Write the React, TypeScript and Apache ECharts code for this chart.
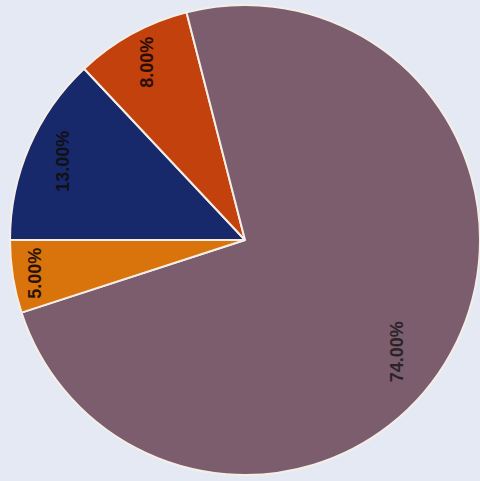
import React, { useEffect, useRef } from "react";
import * as echarts from "echarts";

const categories = ["Navy", "Red", "Mauve", "Orange"];
const values = [13, 8, 74, 5];
const colors = ["#17296b", "#c2410d", "#7b5d6e", "#d9740c"];

export default function App() {
  const ref = useRef<HTMLDivElement>(null);
  useEffect(() => {
    if (!ref.current) return;
    const chart = echarts.init(ref.current, undefined, { renderer: "svg" });
    const R = 235;
    const center = [245, 240];
    const labelFrac = [0.83, 0.85, 0.79, 0.89];
    const labelStart = [180, 180, 172.5, 180];
    const labelColor = ["#111015", "#2a0d08", "#2a2428", "#2a1208"];
    const data = categories.map((name, i) => ({
      name,
      value: values[i],
      itemStyle: { color: colors[i] },
    }));
    const labelSeries = categories.map((_, k) => ({
      type: "pie",
      silent: true,
      startAngle: labelStart[k],
      clockwise: true,
      center,
      radius: [labelFrac[k] * R - 6, labelFrac[k] * R + 6],
      itemStyle: { color: "transparent", borderWidth: 0 },
      labelLine: { show: false },
      emphasis: { disabled: true },
      data: categories.map((name, i) => ({
        name,
        value: values[i],
        label: {
          show: i === k,
          position: "inside",
          rotate: 90,
          fontSize: 18,
          fontFamily: "Liberation Sans, Arial, sans-serif",
          fontWeight: "bold",
          color: labelColor[k],
          formatter: (p: any) => p.percent.toFixed(2) + "%",
        },
      })),
    }));
    chart.setOption({
      animation: false,
      backgroundColor: "#e5e9f4",
      series: [
        {
          type: "pie",
          startAngle: 180,
          clockwise: true,
          center,
          radius: [0, R],
          label: { show: false },
          labelLine: { show: false },
          itemStyle: { borderColor: "#f4eee6", borderWidth: 2 },
          data,
        },
        ...labelSeries,
      ],
    });
    return () => chart.dispose();
  }, []);
  return (
    <div
      ref={ref}
      style={{ position: "fixed", left: 0, top: 0, width: 480, height: 481 }}
    />
  );
}
